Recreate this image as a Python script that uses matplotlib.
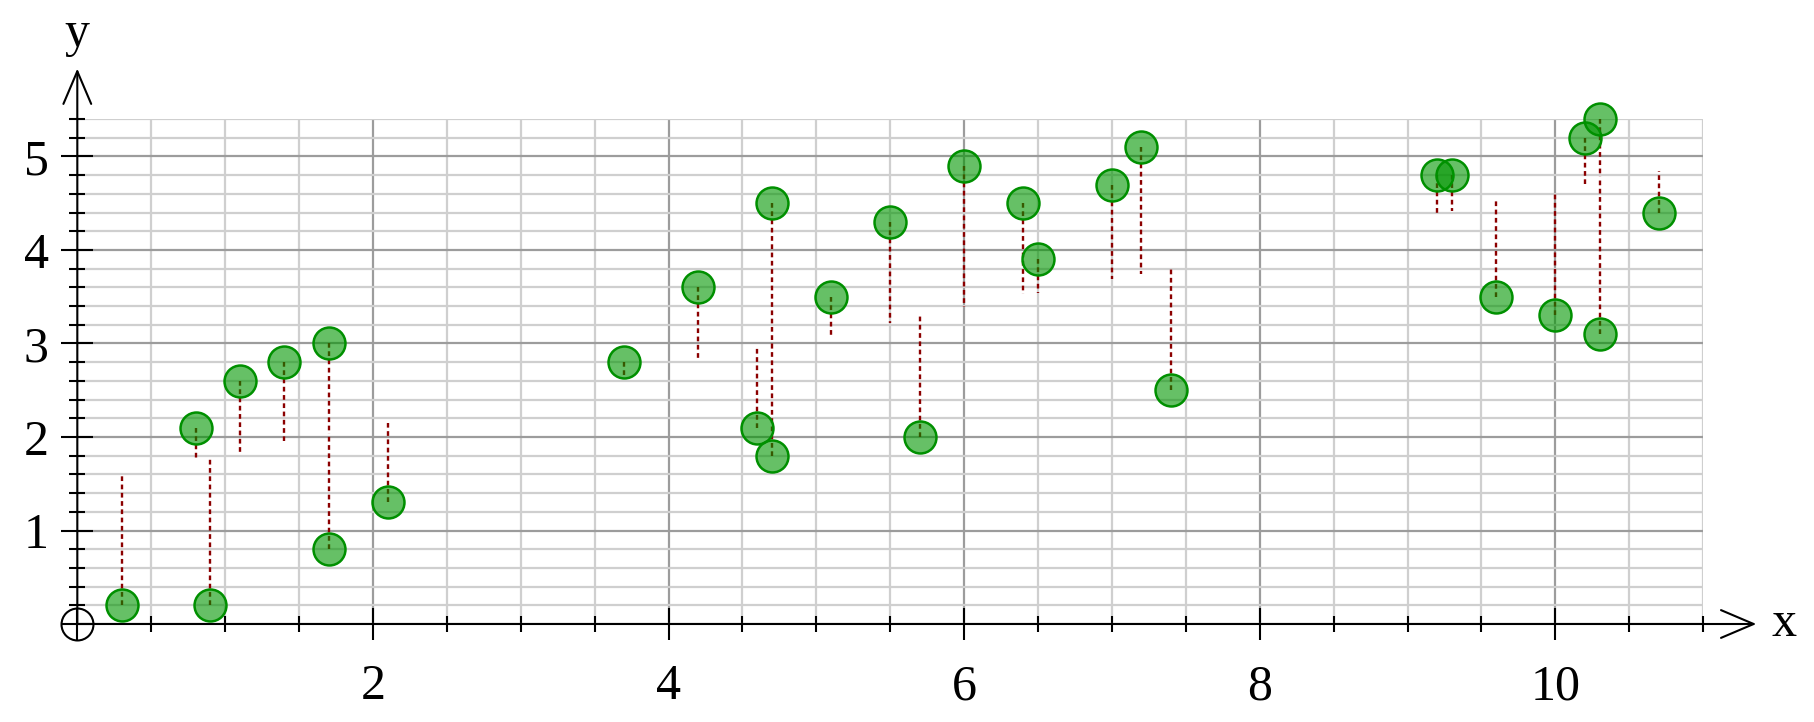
import matplotlib
matplotlib.use('Agg')
import matplotlib.pyplot as plt
from matplotlib.ticker import MultipleLocator, FuncFormatter

# points
x_vals = [0.3, 0.8, 0.9, 1.1, 1.4, 1.7, 1.7, 2.1, 3.7, 4.2, 4.6, 4.7, 4.7, 5.1, 5.5,
          5.7, 6.0, 6.4, 6.5, 7.0, 7.2, 7.4, 9.2, 9.3, 9.6, 10.0, 10.2, 10.3, 10.3, 10.7]
y_vals = [0.2, 2.1, 0.2, 2.6, 2.8, 3.0, 0.8, 1.3, 2.8, 3.6, 2.1, 4.5, 1.8, 3.5, 4.3,
          2.0, 4.9, 4.5, 3.9, 4.7, 5.1, 2.5, 4.8, 4.8, 3.5, 3.3, 5.2, 5.4, 3.1, 4.4]
# other end of each dotted residual line
y_fit = [1.58, 1.74, 1.77, 1.84, 1.96, 2.03, 2.03, 2.15, 2.65, 2.82, 2.95, 2.98, 2.98, 3.08, 3.22,
         3.30, 3.39, 3.53, 3.54, 3.69, 3.74, 3.81, 4.37, 4.42, 4.53, 4.60, 4.71, 4.78, 4.78, 4.84]

plt.rcParams['font.family'] = ['Liberation Serif', 'DejaVu Serif']

fig = plt.figure(figsize=(18.15, 7.22), dpi=100)
ax = fig.add_axes([77.3 / 1815, 98 / 722, 11 * 147.8 / 1815, 5.4 * 93.5 / 722])
ax.set_xlim(0, 11)
ax.set_ylim(0, 5.4)

# grid
ax.xaxis.set_major_locator(MultipleLocator(2))
ax.xaxis.set_minor_locator(MultipleLocator(0.5))
ax.yaxis.set_major_locator(MultipleLocator(1))
ax.yaxis.set_minor_locator(MultipleLocator(0.2))
ax.grid(which='minor', color='#cfcfcf', lw=1.6)
ax.grid(which='major', color='#9c9c9c', lw=1.6)
ax.set_axisbelow(True)

hide_zero = FuncFormatter(lambda v, p: '' if abs(v) < 1e-9 else '%g' % v)
ax.xaxis.set_major_formatter(hide_zero)
ax.yaxis.set_major_formatter(hide_zero)

ax.tick_params(which='major', direction='inout', length=23, width=1.5, labelsize=36, pad=9)
ax.tick_params(which='minor', direction='inout', length=12, width=1.5)
ax.tick_params(axis='x', which='major', pad=17)

for s in ax.spines.values():
    s.set_visible(False)

# axes with open arrow heads
arrow = dict(arrowstyle='->,head_length=2.35,head_width=1.0', lw=1.5, color='black',
             shrinkA=0, shrinkB=0, mutation_scale=10)
ax.annotate('', xy=(11.36, 0), xytext=(0, 0), arrowprops=arrow, annotation_clip=False)
ax.annotate('', xy=(0, 5.94), xytext=(0, 0), arrowprops=arrow, annotation_clip=False)
ax.text(11.46, 0, 'x', fontsize=36, ha='left', va='center', clip_on=False)
ax.text(0, 6.31, 'y', fontsize=36, ha='center', va='center', clip_on=False)

# circle at the origin
ax.plot([0], [0], marker='o', ms=23, mfc='none', mec='black', mew=1.5, clip_on=False, zorder=5)

# residuals
ax.vlines(x_vals, y_vals, y_fit, colors='#8b0000', linestyles=(0, (2, 1.5)), lw=1.7, zorder=3)

# points
ax.scatter(x_vals, y_vals, s=23 ** 2, facecolor=(0, 0.59, 0, 0.6), edgecolor='#009000',
           linewidth=1.8, zorder=4, clip_on=False)

plt.savefig('out.png', dpi=100)
